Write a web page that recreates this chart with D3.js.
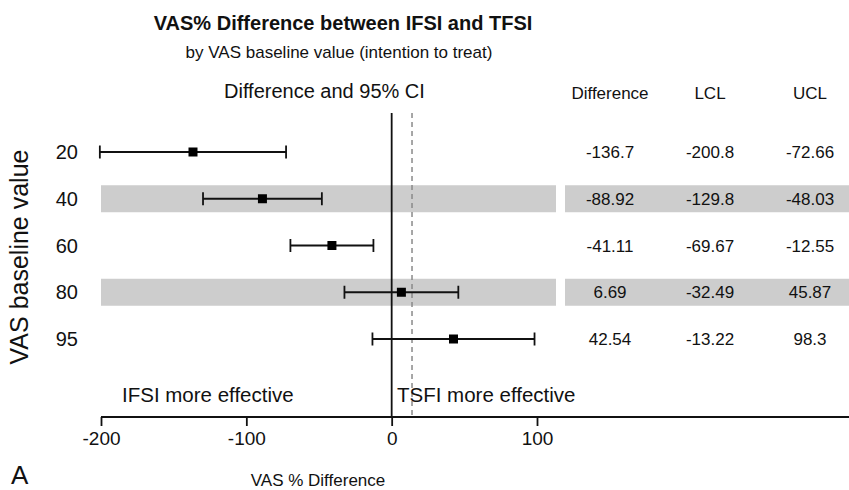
<!DOCTYPE html>
<html>
<head>
<meta charset="utf-8">
<script src="https://cdn.jsdelivr.net/npm/d3@7"></script>
<style>
  html, body { margin: 0; padding: 0; background: #fff; }
  svg { display: block; font-family: "Liberation Sans", Arial, Helvetica, sans-serif; }
</style>
</head>
<body>
<svg id="chart" width="849" height="490"></svg>
<script>
// ---- data ----
const baselines = ["20", "40", "60", "80", "95"];
const difference = [-136.7, -88.92, -41.11, 6.69, 42.54];
const lcl = [-200.8, -129.8, -69.67, -32.49, -13.22];
const ucl = [-72.66, -48.03, -12.55, 45.87, 98.3];
const diffLabels = ["-136.7", "-88.92", "-41.11", "6.69", "42.54"];
const lclLabels = ["-200.8", "-129.8", "-69.67", "-32.49", "-13.22"];
const uclLabels = ["-72.66", "-48.03", "-12.55", "45.87", "98.3"];
const shadedRows = ["40", "80"];
const xTicks = [-200, -100, 0, 100];
const xTickLabels = ["-200", "-100", "0", "100"];
const refValue = 14;
const tableHeaders = ["Difference", "LCL", "UCL"];

// ---- layout ----
const W = 849, H = 490;
const svg = d3.select("#chart");
const x = d3.scaleLinear().domain([-200, 100]).range([101, 537]);
const y = d3.scalePoint().domain(baselines).range([152, 339]);
const axisY = 417, lineTop = 113;
const bandH = 27;
const plotRight = 556, tableLeft = 565;
const colX = d3.scalePoint().domain(tableHeaders).range([610, 810]);
const sw = 1.8;

// shaded bands
shadedRows.forEach(r => {
  svg.append("rect").attr("x", x(-200)).attr("y", y(r) - bandH / 2)
    .attr("width", plotRight - x(-200)).attr("height", bandH).attr("fill", "#cdcdcd");
  svg.append("rect").attr("x", tableLeft).attr("y", y(r) - bandH / 2)
    .attr("width", W - tableLeft).attr("height", bandH).attr("fill", "#cdcdcd");
});

// reference lines
svg.append("line").attr("x1", x(refValue)).attr("x2", x(refValue))
  .attr("y1", lineTop).attr("y2", axisY)
  .attr("stroke", "#8a8a8a").attr("stroke-width", 1.5).attr("stroke-dasharray", "5,4");
svg.append("line").attr("x1", x(0)).attr("x2", x(0))
  .attr("y1", lineTop).attr("y2", axisY)
  .attr("stroke", "#111").attr("stroke-width", sw);

// error bars
const rows = baselines.map((b, i) => ({ b, d: difference[i], lo: lcl[i], hi: ucl[i] }));
const g = svg.append("g");
g.selectAll(".ci").data(rows).join("line")
  .attr("x1", d => x(d.lo)).attr("x2", d => x(d.hi))
  .attr("y1", d => y(d.b)).attr("y2", d => y(d.b))
  .attr("stroke", "#111").attr("stroke-width", sw);
g.selectAll(".capL").data(rows).join("line")
  .attr("x1", d => x(d.lo)).attr("x2", d => x(d.lo))
  .attr("y1", d => y(d.b) - 6.5).attr("y2", d => y(d.b) + 6.5)
  .attr("stroke", "#111").attr("stroke-width", sw);
g.selectAll(".capR").data(rows).join("line")
  .attr("x1", d => x(d.hi)).attr("x2", d => x(d.hi))
  .attr("y1", d => y(d.b) - 6.5).attr("y2", d => y(d.b) + 6.5)
  .attr("stroke", "#111").attr("stroke-width", sw);
g.selectAll(".pt").data(rows).join("rect")
  .attr("x", d => x(d.d) - 4.5).attr("y", d => y(d.b) - 4.5)
  .attr("width", 9).attr("height", 9).attr("fill", "#000");

// y labels
svg.selectAll(".ylab").data(baselines).join("text")
  .attr("x", 78).attr("y", d => y(d)).attr("dy", "0.36em")
  .attr("text-anchor", "end").attr("font-size", 20).attr("fill", "#111").text(d => d);
svg.append("text").attr("transform", `translate(28,257) rotate(-90)`)
  .attr("text-anchor", "middle").attr("font-size", 25).attr("fill", "#111").text("VAS baseline value");

// x axis
const axis = d3.axisBottom(x).tickValues(xTicks).tickFormat((d, i) => xTickLabels[i])
  .tickSizeOuter(0).tickSize(9).tickPadding(6);
const ax = svg.append("g").attr("transform", `translate(0,${axisY})`).call(axis);
ax.select(".domain").remove();
ax.attr("font-family", null).attr("font-size", null);
ax.selectAll(".tick line").attr("stroke", "#111").attr("stroke-width", sw);
ax.selectAll(".tick text").attr("font-size", 19).attr("fill", "#111");
svg.append("line").attr("x1", x(-200)).attr("x2", W).attr("y1", axisY).attr("y2", axisY)
  .attr("stroke", "#111").attr("stroke-width", sw);

// texts
svg.append("text").attr("x", 343).attr("y", 30).attr("text-anchor", "middle")
  .attr("font-size", 20).attr("font-weight", "bold").attr("fill", "#111")
  .text("VAS% Difference between IFSI and TFSI");
svg.append("text").attr("x", 339).attr("y", 58).attr("text-anchor", "middle")
  .attr("font-size", 17).attr("fill", "#111")
  .text("by VAS baseline value (intention to treat)");
svg.append("text").attr("x", 224).attr("y", 98)
  .attr("font-size", 20).attr("fill", "#111").text("Difference and 95% CI");
svg.append("text").attr("x", 122).attr("y", 402)
  .attr("font-size", 20.5).attr("fill", "#111").text("IFSI more effective");
svg.append("text").attr("x", 397).attr("y", 402)
  .attr("font-size", 20.5).attr("fill", "#111").text("TSFI more effective");
svg.append("text").attr("x", 318).attr("y", 486).attr("text-anchor", "middle")
  .attr("font-size", 17).attr("fill", "#111").text("VAS % Difference");
svg.append("text").attr("x", 11).attr("y", 484)
  .attr("font-size", 26).attr("fill", "#111").text("A");

// table
svg.selectAll(".hdr").data(tableHeaders).join("text")
  .attr("x", d => colX(d)).attr("y", 99).attr("text-anchor", "middle")
  .attr("font-size", 17).attr("fill", "#111").text(d => d);
const cols = [diffLabels, lclLabels, uclLabels];
cols.forEach((col, ci) => {
  svg.selectAll(".c" + ci).data(col).join("text")
    .attr("x", colX(tableHeaders[ci])).attr("y", (d, i) => y(baselines[i]))
    .attr("dy", "0.36em").attr("text-anchor", "middle")
    .attr("font-size", 17).attr("fill", "#111").text(d => d);
});
</script>
</body>
</html>
